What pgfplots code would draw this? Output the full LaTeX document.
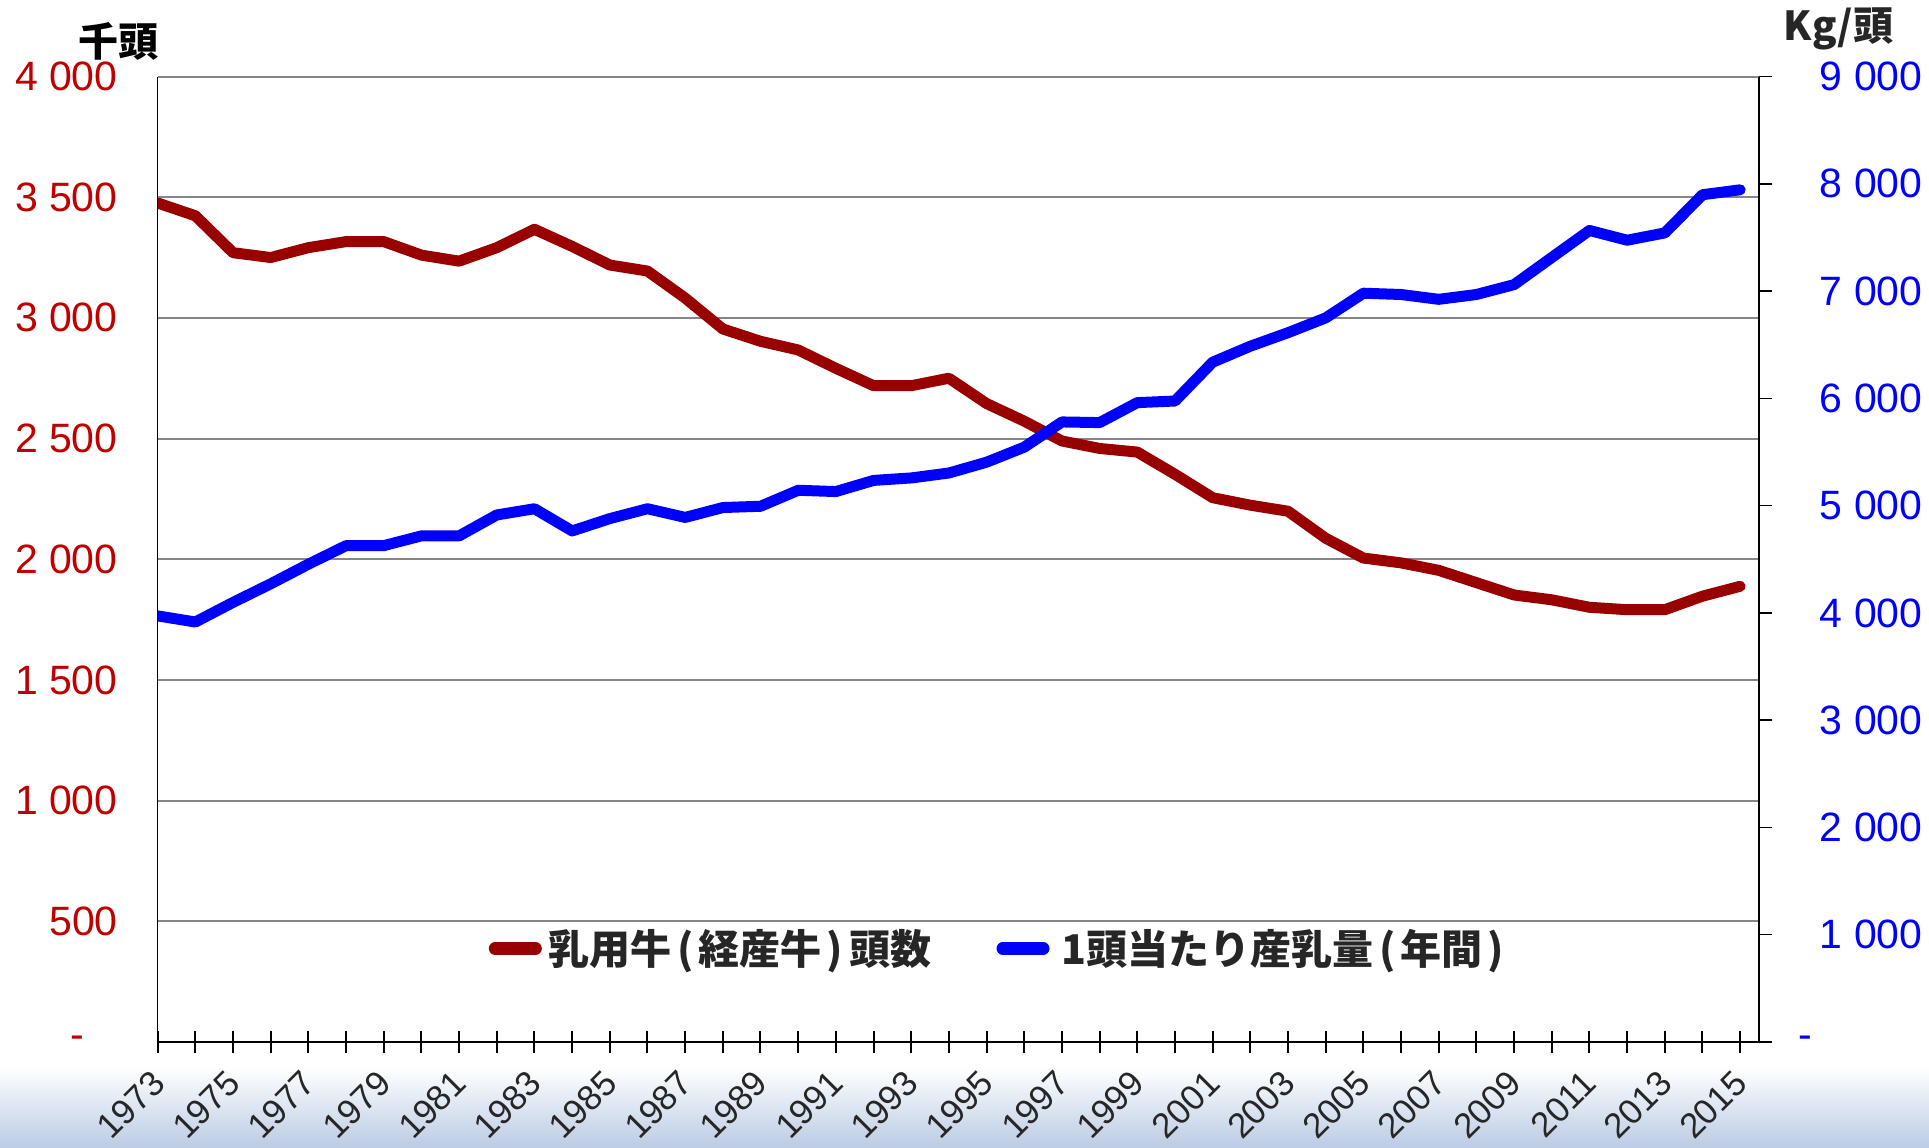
\documentclass[border=0pt]{standalone}
\usepackage{pgfplots}
\pgfplotsset{compat=1.18}
\usepackage{pgfplotstable}
\usepackage{fontspec}
\setmainfont{Liberation Sans}
\newfontfamily\cjk{Noto Sans CJK JP}
\definecolor{dred}{HTML}{990000}
\definecolor{lred}{HTML}{C00000}
\definecolor{gridgray}{HTML}{868686}
\definecolor{bandblue}{RGB}{187,204,228}
\definecolor{txtgray}{HTML}{262626}

\pgfplotstableread{
year value
1973 3476
1974 3423
1975 3270
1976 3250
1977 3291
1978 3316
1979 3316
1980 3260
1981 3235
1982 3291
1983 3367
1984 3296
1985 3219
1986 3194
1987 3082
1988 2954
1989 2903
1990 2867
1991 2791
1992 2719
1993 2719
1994 2750
1995 2645
1996 2572
1997 2490
1998 2459
1999 2444
2000 2352
2001 2255
2002 2224
2003 2199
2004 2087
2005 2005
2006 1985
2007 1954
2008 1903
2009 1852
2010 1832
2011 1801
2012 1791
2013 1791
2014 1847
2015 1888
}\cowtable

\pgfplotstableread{
year value
1973 3972
1974 3915
1975 4098
1976 4271
1977 4454
1978 4627
1979 4627
1980 4718
1981 4718
1982 4913
1983 4971
1984 4764
1985 4879
1986 4971
1987 4890
1988 4982
1989 4994
1990 5143
1991 5131
1992 5235
1993 5258
1994 5304
1995 5405
1996 5545
1997 5780
1998 5774
1999 5960
2000 5975
2001 6337
2002 6486
2003 6612
2004 6750
2005 6980
2006 6968
2007 6923
2008 6968
2009 7060
2010 7313
2011 7565
2012 7474
2013 7542
2014 7898
2015 7944
}\milktable

\begin{document}
\begin{tikzpicture}
\useasboundingbox (0pt,0pt) rectangle (964.5pt,573.5pt);
\shade[top color=white, bottom color=bandblue] (0pt,0pt) rectangle (964.5pt,40pt);
\begin{axis}[
  at={(78.85pt,52.5pt)}, anchor=south west,
  scale only axis, width=800.65pt, height=482.75pt,
  xmin=1973, xmax=2015.5, ymin=0, ymax=4000,
  axis x line=bottom, axis y line=left,
  x axis line style={-, black, line width=1.35pt},
  y axis line style={-, black, line width=0.65pt},
  xtick={1973,1974,...,2015},
  xticklabels={1973,{},1975,{},1977,{},1979,{},1981,{},1983,{},1985,{},1987,{},1989,{},1991,{},1993,{},1995,{},1997,{},1999,{},2001,{},2003,{},2005,{},2007,{},2009,{},2011,{},2013,{},2015},
  tick align=center, major tick length=11pt,
  xtick style={black, line width=1pt},
  ytick={0,500,...,4000},
  yticklabels={-\hspace*{16.5pt},500,1~000,1~500,2~000,2~500,3~000,3~500,4~000},
  ytick style={draw=none},
  ymajorgrids, grid style={gridgray, line width=1pt},
  yticklabel style={font=\fontsize{20.5}{24}\selectfont, text=lred, inner sep=0pt, anchor=east, xshift=-14.35pt},
  xticklabel style={font=\fontsize{17.5}{20}\selectfont, text=txtgray, inner sep=0pt, xshift=0.5pt, yshift=-12pt, rotate=45, anchor=east},
]
\addplot[dred, line width=5.5pt, line join=round, line cap=round] table[x=year,y=value]{\cowtable};
\end{axis}
\begin{axis}[
  at={(78.85pt,52.5pt)}, anchor=south west,
  scale only axis, width=800.65pt, height=482.75pt,
  xmin=1973, xmax=2015.5, ymin=0, ymax=9000,
  axis x line=none, axis y line=right,
  y axis line style={-, black, line width=0.75pt},
  ytick={0,1000,...,9000},
  yticklabels={\hspace*{-15.5pt}-,1~000,2~000,3~000,4~000,5~000,6~000,7~000,8~000,9~000},
  tick align=outside, major tick length=6.75pt,
  ytick style={black, line width=0.75pt},
  yticklabel style={font=\fontsize{20.5}{24}\selectfont, text=blue, inner sep=0pt, anchor=west, xshift=23.5pt},
  legend style={at={(axis description cs:0.2063,0.0968)}, anchor=west, draw=none, fill=none, inner sep=0pt,
    font=\cjk\bfseries\fontsize{20.5}{24}\selectfont, text=txtgray,
    /tikz/every even column/.append style={column sep=30pt}, nodes={inner sep=0pt}},
  legend columns=2, legend cell align=left,
  legend image code/.code={\draw[#1, line width=6.3pt, line cap=round] (3.15pt,0pt) -- (23.35pt,0pt); \path (0pt,0pt) (29.5pt,0pt);},
]
\addlegendimage{dred}
\addlegendentry{乳用牛\kern3pt(\kern2.5pt経産牛\kern2.5pt)\kern3pt頭数}
\addplot[blue, line width=5.5pt, line join=round, line cap=round] table[x=year,y=value]{\milktable};
\addlegendentry{1頭当たり産乳量\kern3pt(\kern2.5pt年間\kern2.5pt)}
\end{axis}
\node[font=\cjk\bfseries\fontsize{20}{24}\selectfont, text=black] at (59pt,552.75pt) {千頭};
\node[font=\cjk\bfseries\fontsize{20}{24}\selectfont, text=txtgray] at (919.25pt,559pt) {Kg/頭};
\end{tikzpicture}
\end{document}
